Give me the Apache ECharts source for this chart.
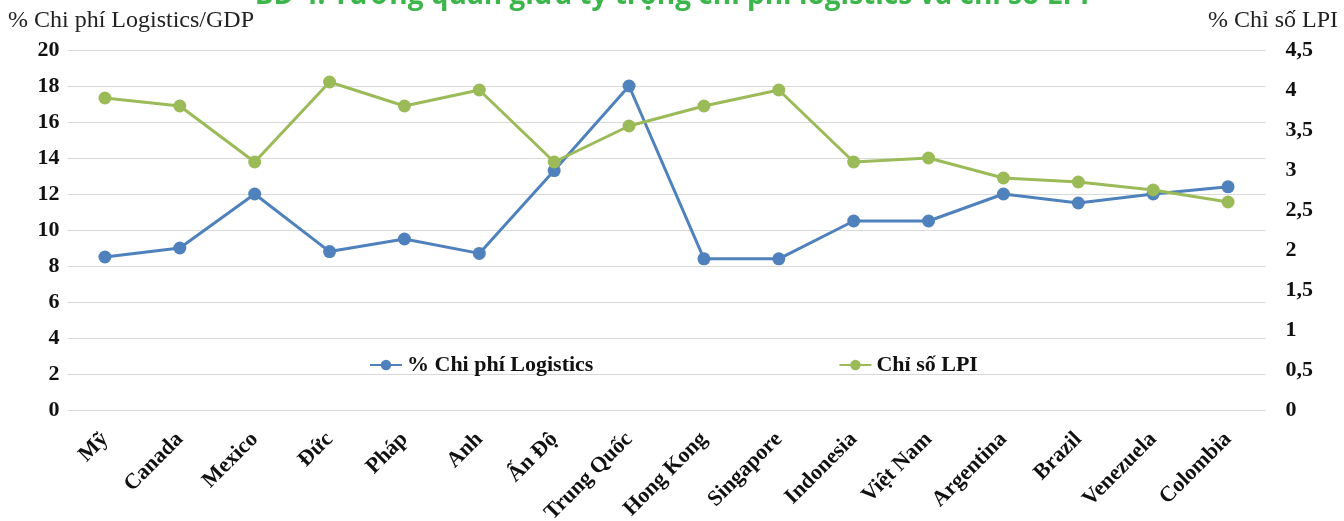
<!DOCTYPE html>
<html>
<head>
<meta charset="utf-8">
<script src="https://cdn.jsdelivr.net/npm/echarts@6/dist/echarts.min.js"></script>
<style>
  html, body { margin: 0; padding: 0; background: #fff; }
  #chart { width: 1344px; height: 521px; }
</style>
</head>
<body>
<div id="chart"></div>
<script>
// Quốc gia / vùng lãnh thổ
const categories = ['Mỹ', 'Canada', 'Mexico', 'Đức', 'Pháp', 'Anh', 'Ấn Độ', 'Trung Quốc',
  'Hong Kong', 'Singapore', 'Indonesia', 'Việt Nam', 'Argentina', 'Brazil', 'Venezuela', 'Colombia'];

// % chi phí logistics trên GDP (trục trái)
const logisticsCost = [8.5, 9.0, 12.0, 8.8, 9.5, 8.7, 13.3, 18.0, 8.4, 8.4, 10.5, 10.5, 12.0, 11.5, 12.0, 12.4];

// Chỉ số LPI (trục phải)
const lpiIndex = [3.9, 3.8, 3.1, 4.1, 3.8, 4.0, 3.1, 3.55, 3.8, 4.0, 3.1, 3.15, 2.9, 2.85, 2.75, 2.6];

// Nhãn trục
const leftTicks = [0, 2, 4, 6, 8, 10, 12, 14, 16, 18, 20];
const rightTicks = [0, 0.5, 1, 1.5, 2, 2.5, 3, 3.5, 4, 4.5];

const serif = '"Liberation Serif", "Times New Roman", serif';
const blue = '#4f81bd';
const green = '#9bbb59';

const chart = echarts.init(document.getElementById('chart'), null, { renderer: 'canvas' });

chart.setOption({
  animation: false,
  backgroundColor: '#ffffff',
  graphic: [
    {
      type: 'text',
      left: 'center',
      top: -18,
      style: {
        text: 'BĐ 4: Tương quan giữa tỷ trọng chi phí logistics và chỉ số LPI',
        font: 'bold 28px "Open Sans", "Noto Sans", sans-serif',
        fill: '#3cb54a'
      }
    },
    {
      type: 'text',
      left: 8,
      top: 9,
      style: { text: '% Chi phí Logistics/GDP', font: '24px ' + serif, fill: '#222' }
    },
    {
      type: 'text',
      right: 6,
      top: 9,
      style: { text: '% Chỉ số LPI', font: '24px ' + serif, fill: '#222' }
    }
  ],
  grid: {
    left: 67.5, right: 78.5, top: 50, bottom: 111,
    containLabel: false,
    outerBoundsMode: 'none'
  },
  legend: {
    top: 349,
    left: 364,
    itemGap: 245,
    itemWidth: 32,
    itemHeight: 13,
    textStyle: { fontFamily: serif, fontWeight: 'bold', fontSize: 22, color: '#111' },
    data: ['% Chi phí Logistics', 'Chỉ số LPI']
  },
  xAxis: {
    type: 'category',
    data: categories,
    boundaryGap: true,
    axisLine: { show: false },
    axisTick: { show: false },
    axisLabel: {
      rotate: 45,
      margin: 26,
      interval: 0,
      fontFamily: serif,
      fontWeight: 'bold',
      fontSize: 22,
      color: '#111'
    }
  },
  yAxis: [
    {
      type: 'value',
      min: leftTicks[0],
      max: leftTicks[leftTicks.length - 1],
      interval: leftTicks[1] - leftTicks[0],
      axisLine: { show: false },
      axisTick: { show: false },
      splitLine: { lineStyle: { color: '#d9d9d9', width: 1 } },
      axisLabel: {
        margin: 8,
        fontFamily: serif,
        fontWeight: 'bold',
        fontSize: 22,
        color: '#111'
      }
    },
    {
      type: 'value',
      min: rightTicks[0],
      max: rightTicks[rightTicks.length - 1],
      interval: rightTicks[1] - rightTicks[0],
      axisLine: { show: false },
      axisTick: { show: false },
      splitLine: { show: false },
      axisLabel: {
        margin: 20,
        fontFamily: serif,
        fontWeight: 'bold',
        fontSize: 22,
        color: '#111',
        formatter: v => String(v).replace('.', ',')
      }
    }
  ],
  series: [
    {
      name: '% Chi phí Logistics',
      type: 'line',
      yAxisIndex: 0,
      data: logisticsCost,
      symbol: 'circle',
      symbolSize: 13,
      itemStyle: { color: blue },
      lineStyle: { color: blue, width: 3 },
      z: 2
    },
    {
      name: 'Chỉ số LPI',
      type: 'line',
      yAxisIndex: 1,
      data: lpiIndex,
      symbol: 'circle',
      symbolSize: 13,
      itemStyle: { color: green },
      lineStyle: { color: green, width: 3 },
      z: 3
    }
  ]
});
</script>
</body>
</html>
